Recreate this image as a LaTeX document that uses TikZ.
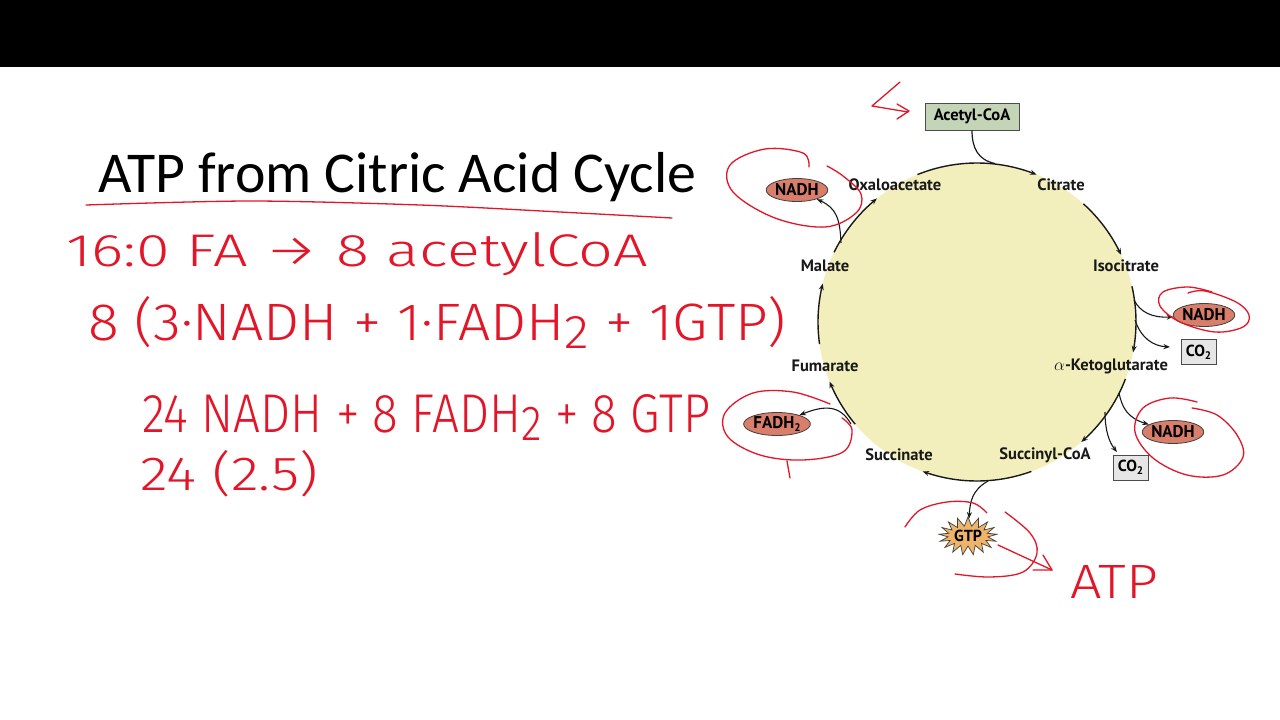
\documentclass[tikz,border=0pt]{standalone}
\usepackage{fontspec}
\usepackage{graphicx}
\setmainfont{Liberation Sans}
\newfontfamily\titlefont{Carlito}
\newfontfamily\lblfont{PT Sans}
\IfFontExistsTF{Fira Sans Light}{\newfontfamily\handfont{Fira Sans Light}}{\newfontfamily\handfont{Liberation Sans}}
\usetikzlibrary{arrows.meta,shapes.geometric,shapes.symbols}
\definecolor{cycfill}{RGB}{243,239,188}
\definecolor{acbox}{RGB}{196,212,183}
\definecolor{nadhfill}{RGB}{216,126,106}
\definecolor{cotwofill}{RGB}{230,230,230}
\definecolor{gtpfill}{RGB}{238,180,106}
\definecolor{hand}{RGB}{226,22,40}
\newcommand{\lowsub}[1]{\raisebox{-0.4ex}{\fontsize{11}{11}\selectfont #1}}
\newcommand{\hsub}[1]{\raisebox{-0.3ex}{\small #1}}
\tikzset{
  lbl/.style={font=\lblfont\bfseries\fontsize{16.5}{16.5}\selectfont, inner sep=0pt, text=black!90},
  redox/.style={ellipse, draw=black!75, line width=0.8pt, fill=nadhfill, minimum width=60pt, minimum height=23pt, inner sep=0pt, font=\lblfont\bfseries\fontsize{17}{17}\selectfont},
  cobox/.style={rectangle, draw=black!70, line width=0.8pt, fill=cotwofill, minimum width=35pt, minimum height=25pt, inner sep=0pt, font=\lblfont\bfseries\fontsize{16}{16}\selectfont},
  conn/.style={draw=black!90, line width=1.1pt, -{Stealth[length=6.5pt,width=5pt]}},
  cyc/.style={draw=black!90, line width=1.4pt, -{Stealth[length=6.5pt,width=5pt]}},
  hw/.style={text=hand, inner sep=0pt, font=\handfont},
  hwl/.style={draw=hand, line width=1.3pt, line cap=round, line join=round}
}
\begin{document}
\begin{tikzpicture}[x=1pt,y=-1pt]
\useasboundingbox (0,0) rectangle (1280,720);
\fill[white] (0,0) rectangle (1280,720);
\fill[black] (0,0) rectangle (1280,67);

% title
\node[anchor=base west, inner sep=0pt] (title) at (98,192) {\resizebox{598pt}{!}{\titlefont\fontsize{60}{60}\selectfont ATP from Citric Acid Cycle}};

% cycle disk
\coordinate (C) at (977,322);
\fill[cycfill] (C) circle[radius=159];

% cycle arcs
\draw[cyc] plot[domain=-112:-68,samples=30] ({977+159*cos(\x)},{322+159*sin(\x)});
\draw[cyc] plot[domain=-48:-25,samples=20] ({977+159*cos(\x)},{322+159*sin(\x)});
\draw[cyc] plot[domain=-13:11,samples=20] ({977+159*cos(\x)},{322+159*sin(\x)});
\draw[cyc] plot[domain=21:49,samples=20] ({977+159*cos(\x)},{322+159*sin(\x)});
\draw[cyc] plot[domain=70:110,samples=30] ({977+159*cos(\x)},{322+159*sin(\x)});
\draw[cyc] plot[domain=140:158,samples=20] ({977+159*cos(\x)},{322+159*sin(\x)});
\draw[cyc] plot[domain=172:194,samples=20] ({977+159*cos(\x)},{322+159*sin(\x)});
\draw[cyc] plot[domain=206:231,samples=20] ({977+159*cos(\x)},{322+159*sin(\x)});

% metabolite labels
\node[lbl] (oaa) at (895,185) {Oxaloacetate};
\node[lbl] (cit) at (1061,185) {Citrate};
\node[lbl] (iso) at (1126,266) {Isocitrate};
\node[lbl] (akg) at (1111,366) {$\alpha$-Ketoglutarate};
\node[lbl] (scoa) at (1045,455) {Succinyl-CoA};
\node[lbl] (succ) at (899,455) {Succinate};
\node[lbl] (fum) at (825,366) {Fumarate};
\node[lbl] (mal) at (825,266) {Malate};

% acetyl-CoA
\node[rectangle, draw=black!70, line width=0.8pt, fill=acbox, minimum width=94pt, minimum height=27pt, inner sep=0pt, font=\lblfont\bfseries\fontsize{16.5}{16.5}\selectfont] (acoa) at (972,116.5) {Acetyl-CoA};
\coordinate (join) at (995,163.5);
\draw[draw=black!90, line width=1.2pt] (acoa.south) .. controls (972,148) and (978,160) .. (join);

% products
\node[redox] (nadh1) at (797,190) {NADH};
\node[redox] (nadh2) at (1204,315) {NADH};
\node[cobox] (co2a) at (1198.5,352) {CO\lowsub{2}};
\node[redox] (nadh3) at (1173,432) {NADH};
\node[cobox] (co2b) at (1130.5,467.5) {CO\lowsub{2}};
\node[redox, minimum width=62pt] (fadh) at (777,424) {FADH\lowsub{2}};
\node[starburst, starburst points=17, starburst point height=9pt, random starburst=0, draw=black!75, line width=0.7pt, fill=gtpfill, minimum width=58pt, minimum height=38pt, inner sep=0pt, font=\lblfont\bfseries\fontsize{16}{16}\selectfont] (gtp) at (968,536) {GTP};

% side connectors
\coordinate (s1) at (841,243);
\coordinate (s2) at (1134,300);
\coordinate (s3) at (1135,320);
\coordinate (s4) at (1119,393);
\coordinate (s5) at (1105,412);
\coordinate (s6) at (851,424);
\coordinate (s7) at (988,481);
\draw[conn] (s1) .. controls (840,218) and (836,208) .. (nadh1);
\draw[conn] (s2) .. controls (1140,312) and (1152,318) .. (nadh2);
\draw[conn] (s3) .. controls (1141,338) and (1153,346) .. (1170,347);
\draw[conn] (s4) .. controls (1122,408) and (1128,418) .. (nadh3);
\draw[conn] (s5) .. controls (1105,430) and (1109,442) .. (1117,452);
\draw[conn] (s6) .. controls (840,405) and (825,405) .. (fadh);
\draw[conn] (s7) .. controls (972,490) and (970,502) .. (gtp);

% handwritten text
\node[hw, anchor=base west] (h1) at (66,266) {\resizebox{582pt}{34pt}{16:0 FA → 8 acetylCoA}};
\node[hw, anchor=base west] (h2) at (88,340) {\resizebox{698pt}{44pt}{8 (3·NADH + 1·FADH\hsub{2} + 1GTP)}};
\node[hw, anchor=base west] (h3) at (142,432) {\resizebox{568pt}{38pt}{24 NADH + 8 FADH\hsub{2} + 8 GTP}};
\node[hw, anchor=base west] (h4) at (140,490) {\resizebox{178pt}{40pt}{24 (2.5)}};
\node[hw, anchor=base west] (atp) at (1070,598) {\resizebox{88pt}{33pt}{ATP}};

% handwritten strokes
\draw[hwl] plot[smooth] coordinates {(86,205) (250,201) (420,205) (560,212) (672,218)};
\draw[hwl] (900,82) -- (872,106) -- (908,112);
\draw[hwl] (897,104) -- (909,111) -- (897,119);
\draw[hwl] plot[smooth, tension=0.6] coordinates {(809,167) (803,153) (765,149) (730,165) (733,192) (775,218) (825,227) (856,213) (861,194) (843,176) (827,166)};
\draw[hwl] plot[smooth, tension=0.6] coordinates {(1212,292) (1188,287) (1163,292) (1160,306) (1180,322) (1215,332) (1243,327) (1249,315) (1236,302) (1205,291) (1188,293)};
\draw[hwl] plot[smooth, tension=0.6] coordinates {(1197,402) (1170,398) (1143,408) (1135,432) (1153,458) (1187,475) (1223,475) (1243,457) (1237,435) (1217,415) (1192,408)};
\draw[hwl] plot[smooth, tension=0.6] coordinates {(830,404) (793,392) (753,393) (725,413) (728,437) (760,455) (803,460) (843,452) (852,430) (842,418)};
\draw[hwl] (787,461) -- (790,478);
\draw[hwl] plot[smooth, tension=0.6] coordinates {(905,527) (920,510) (947,502) (973,503) (987,513)};
\draw[hwl] plot[smooth, tension=0.6] coordinates {(1005,512) (1030,533) (1037,553) (1023,572) (990,577) (955,574)};
\coordinate (gtpout) at (998,545);
\coordinate (atptip) at (1052,570);
\draw[hwl] (gtpout) -- (atptip);
\draw[hwl] (1043,555) -- (atptip) -- (1033,570);
\end{tikzpicture}
\end{document}
